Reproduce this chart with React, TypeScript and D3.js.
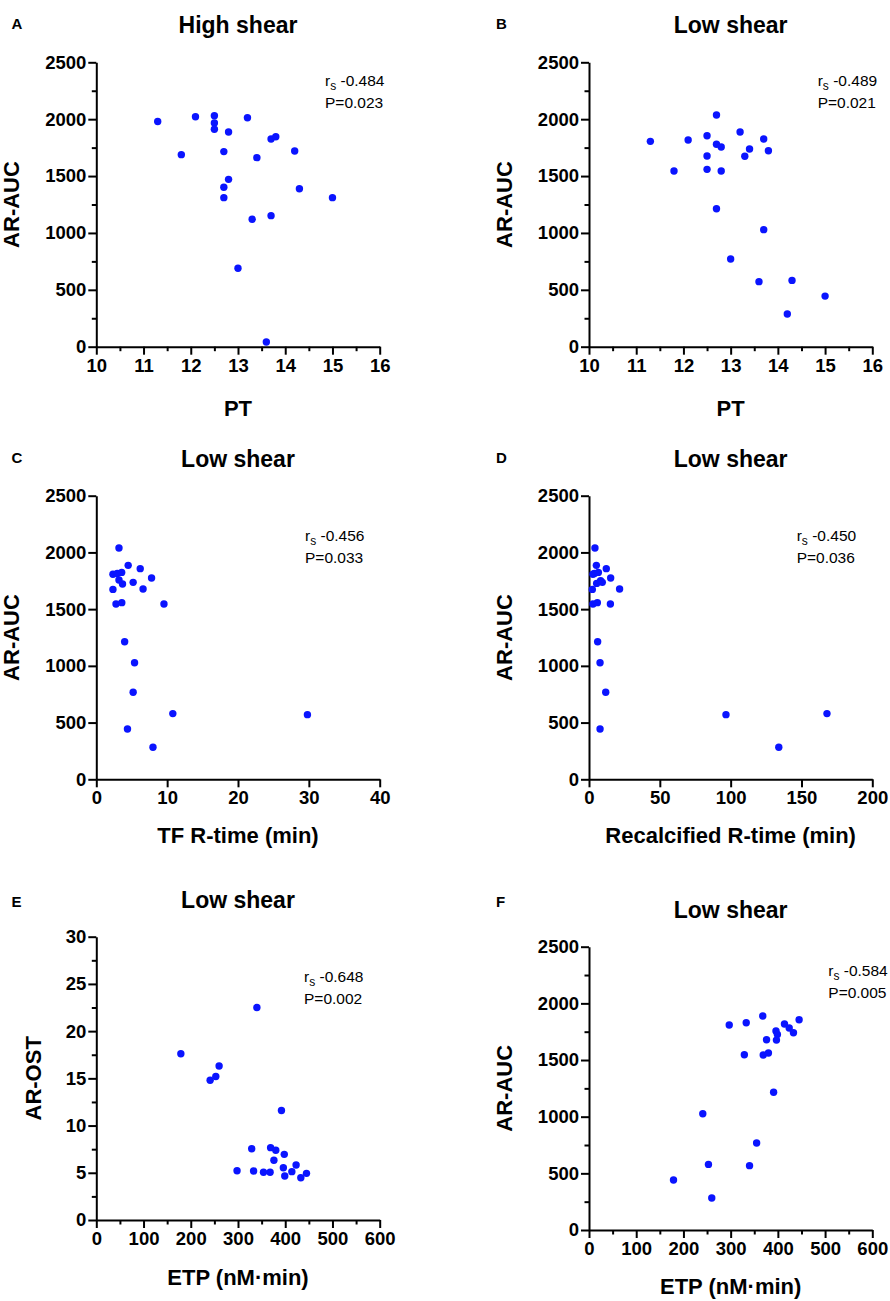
import React, { useEffect, useRef } from 'react';
import * as d3 from 'd3';

// panel A - high shear, PT vs AR-AUC
const ptHigh = [11.3, 12.1, 12.5, 12.5, 12.5, 13.2, 12.8, 11.8, 12.7, 13.7, 13.8, 13.4, 14.2, 12.8, 12.7, 12.7, 14.3, 15.0, 13.3, 13.7, 13.0, 13.6];
const aucHigh = [1980, 2022, 2031, 1967, 1911, 2013, 1887, 1688, 1715, 1826, 1846, 1662, 1720, 1471, 1401, 1310, 1389, 1310, 1120, 1152, 689, 41];

// panel B - low shear, PT vs AR-AUC
const ptLow = [11.3, 12.1, 11.8, 12.5, 12.7, 12.7, 12.8, 12.5, 12.5, 12.8, 13.2, 13.4, 13.3, 13.7, 13.8, 12.7, 13.7, 13.0, 13.6, 14.3, 14.2, 15.0];
const aucLow = [1805, 1817, 1545, 1855, 2037, 1779, 1756, 1676, 1559, 1545, 1887, 1738, 1674, 1826, 1723, 1213, 1029, 771, 572, 583, 287, 445];

// panel C - TF R-time
const tfRtime = [3.2, 4.5, 6.2, 7.8, 2.35, 2.96, 3.58, 3.2, 3.7, 5.2, 6.6, 2.35, 2.78, 3.6, 9.55, 4.0, 5.4, 5.2, 10.8, 29.8, 4.4, 8.0];
const aucTf = [2039, 1886, 1857, 1774, 1807, 1815, 1824, 1757, 1721, 1736, 1677, 1674, 1545, 1557, 1545, 1213, 1028, 767, 579, 570, 444, 282];

// panel D - recalcified R-time
const recalcRtime = [4.2, 5.2, 12.2, 15.3, 2.8, 3.8, 6.6, 5.4, 8.2, 9.4, 2.35, 21.6, 2.8, 5.9, 15.1, 6.1, 7.8, 11.8, 96.7, 168, 7.8, 134];
const aucRecalc = [2039, 1886, 1857, 1774, 1807, 1815, 1824, 1727, 1750, 1736, 1674, 1677, 1545, 1557, 1545, 1213, 1028, 767, 570, 579, 444, 282];

// panel E - ETP vs AR-OST
const etpE = [340, 179, 241, 253, 260, 392, 329, 369, 380, 398, 376, 423, 396, 298, 333, 354, 368, 414, 399, 433, 445];
const ostE = [22.5, 17.6, 14.8, 15.2, 16.3, 11.6, 7.55, 7.66, 7.38, 6.95, 6.32, 5.82, 5.54, 5.22, 5.19, 5.05, 5.05, 5.12, 4.66, 4.48, 4.94];

// panel F - ETP vs AR-AUC
const etpF = [297, 333, 368, 414, 424, 433, 445, 396, 399, 376, 397, 329, 369, 380, 391, 241, 355, 253, 340, 179, 260];
const aucF = [1809, 1829, 1888, 1818, 1782, 1741, 1856, 1756, 1726, 1679, 1676, 1547, 1544, 1562, 1215, 1026, 768, 579, 568, 441, 282];

const aucTicks = [0, 500, 1000, 1500, 2000, 2500];
const aucMinor = [250, 750, 1250, 1750, 2250];
const ostTicks = [0, 5, 10, 15, 20, 25, 30];
const ostMinor = [2.5, 7.5, 12.5, 17.5, 22.5, 27.5];
const ptTicks = [10, 11, 12, 13, 14, 15, 16];
const ptMinor = [10.5, 11.5, 12.5, 13.5, 14.5, 15.5];
const tfTicks = [0, 10, 20, 30, 40];
const recalcTicks = [0, 50, 100, 150, 200];
const etpTicks = [0, 100, 200, 300, 400, 500, 600];
const etpMinor = [50, 150, 250, 350, 450, 550];

const FONT = '"Liberation Sans", Arial, Helvetica, sans-serif';
const DOT = '#0a14ff';

const panels = [
  { letter: 'A', title: 'High shear', xLabel: 'PT', yLabel: 'AR-AUC', xs: ptHigh, ys: aucHigh,
    xDomain: [10, 16], xTicks: ptTicks, xMinor: ptMinor, yDomain: [0, 2500], yTicks: aucTicks, yMinor: aucMinor,
    left: 96.3, right: 379.7, top: 62.3, bottom: 346.7, rs: '-0.484', p: 'P=0.023', sx: 325, sy: 86,
    titleY: 33, letterX: 11.5, letterY: 29.3, xLabelY: 416, yLabelX: 19.3 },
  { letter: 'B', title: 'Low shear', xLabel: 'PT', yLabel: 'AR-AUC', xs: ptLow, ys: aucLow,
    xDomain: [10, 16], xTicks: ptTicks, xMinor: ptMinor, yDomain: [0, 2500], yTicks: aucTicks, yMinor: aucMinor,
    left: 589, right: 872.3, top: 62.3, bottom: 346.7, rs: '-0.489', p: 'P=0.021', sx: 817.7, sy: 86,
    titleY: 33, letterX: 496, letterY: 29.3, xLabelY: 416, yLabelX: 511.7 },
  { letter: 'C', title: 'Low shear', xLabel: 'TF R-time (min)', yLabel: 'AR-AUC', xs: tfRtime, ys: aucTf,
    xDomain: [0, 40], xTicks: tfTicks, xMinor: [], yDomain: [0, 2500], yTicks: aucTicks, yMinor: [],
    left: 96.3, right: 379.7, top: 495.7, bottom: 779.3, rs: '-0.456', p: 'P=0.033', sx: 305, sy: 541,
    titleY: 467, letterX: 11.5, letterY: 462.7, xLabelY: 843, yLabelX: 19.3 },
  { letter: 'D', title: 'Low shear', xLabel: 'Recalcified R-time (min)', yLabel: 'AR-AUC', xs: recalcRtime, ys: aucRecalc,
    xDomain: [0, 200], xTicks: recalcTicks, xMinor: [], yDomain: [0, 2500], yTicks: aucTicks, yMinor: [],
    left: 589, right: 872.3, top: 495.7, bottom: 779.3, rs: '-0.450', p: 'P=0.036', sx: 796.7, sy: 541,
    titleY: 467, letterX: 496, letterY: 462.7, xLabelY: 843, yLabelX: 511.7 },
  { letter: 'E', title: 'Low shear', xLabel: 'ETP (nM·min)', yLabel: 'AR-OST', xs: etpE, ys: ostE,
    xDomain: [0, 600], xTicks: etpTicks, xMinor: etpMinor, yDomain: [0, 30], yTicks: ostTicks, yMinor: ostMinor,
    left: 96.3, right: 379.7, top: 936.7, bottom: 1220, rs: '-0.648', p: 'P=0.002', sx: 304, sy: 981.7,
    titleY: 908, letterX: 11.5, letterY: 907.3, xLabelY: 1285, yLabelX: 40.7 },
  { letter: 'F', title: 'Low shear', xLabel: 'ETP (nM·min)', yLabel: 'AR-AUC', xs: etpF, ys: aucF,
    xDomain: [0, 600], xTicks: etpTicks, xMinor: etpMinor, yDomain: [0, 2500], yTicks: aucTicks, yMinor: aucMinor,
    left: 589, right: 872.3, top: 946.7, bottom: 1230, rs: '-0.584', p: 'P=0.005', sx: 828.3, sy: 976,
    titleY: 918, letterX: 496, letterY: 907.3, xLabelY: 1294, yLabelX: 511.7 },
];

type PanelCfg = typeof panels[number];

function Panel({ cfg }: { cfg: PanelCfg }) {
  const gRef = useRef<SVGGElement>(null);

  useEffect(() => {
    const g = d3.select(gRef.current);
    g.selectAll('*').remove();

    const x = d3.scaleLinear().domain(cfg.xDomain).range([cfg.left, cfg.right]);
    const y = d3.scaleLinear().domain(cfg.yDomain).range([cfg.bottom, cfg.top]);

    const style = (s: any) => {
      s.attr('font-family', FONT).attr('font-size', 18.5).attr('font-weight', 'bold');
      s.selectAll('line').attr('stroke', '#000').attr('stroke-width', 2);
      s.select('.domain').attr('stroke', '#000').attr('stroke-width', 2);
      s.selectAll('text').attr('fill', '#000');
    };

    // minor ticks
    if (cfg.xMinor.length) {
      g.append('g')
        .attr('transform', `translate(0,${cfg.bottom})`)
        .call(d3.axisBottom(x).tickValues(cfg.xMinor).tickSize(4.5).tickFormat(() => ''))
        .call(style)
        .call(s => s.select('.domain').remove());
    }
    if (cfg.yMinor.length) {
      g.append('g')
        .attr('transform', `translate(${cfg.left},0)`)
        .call(d3.axisLeft(y).tickValues(cfg.yMinor).tickSize(4.5).tickFormat(() => ''))
        .call(style)
        .call(s => s.select('.domain').remove());
    }

    // main axes
    g.append('g')
      .attr('transform', `translate(0,${cfg.bottom})`)
      .call(d3.axisBottom(x).tickValues(cfg.xTicks).tickSize(8).tickSizeOuter(0).tickPadding(4).tickFormat(d3.format('d')))
      .call(style);
    g.append('g')
      .attr('transform', `translate(${cfg.left},0)`)
      .call(d3.axisLeft(y).tickValues(cfg.yTicks).tickSize(8).tickSizeOuter(0).tickPadding(2).tickFormat(d3.format('d')))
      .call(style);

    // points
    g.append('g')
      .selectAll('circle')
      .data(cfg.xs.map((v, i) => [v, cfg.ys[i]]))
      .join('circle')
      .attr('cx', d => x(d[0]))
      .attr('cy', d => y(d[1]))
      .attr('r', 3.7)
      .attr('fill', DOT);
  }, [cfg]);

  const cx = (cfg.left + cfg.right) / 2;
  const cy = (cfg.top + cfg.bottom) / 2;

  return (
    <g fontFamily={FONT} fill="#000">
      <text x={cfg.letterX} y={cfg.letterY} fontSize={15} fontWeight="bold">{cfg.letter}</text>
      <text x={cx} y={cfg.titleY} fontSize={23} fontWeight="bold" textAnchor="middle">{cfg.title}</text>
      <text x={cx} y={cfg.xLabelY} fontSize={22} fontWeight="bold" textAnchor="middle">{cfg.xLabel}</text>
      <text transform={`translate(${cfg.yLabelX},${cy}) rotate(-90)`} fontSize={22} fontWeight="bold" textAnchor="middle">{cfg.yLabel}</text>
      <text x={cfg.sx} y={cfg.sy} fontSize={15.5}>
        r<tspan fontSize={12} dy={4}>s</tspan><tspan dy={-4}> {cfg.rs}</tspan>
      </text>
      <text x={cfg.sx} y={cfg.sy + 22} fontSize={15.5}>{cfg.p}</text>
      <g ref={gRef} />
    </g>
  );
}

export default function App() {
  return (
    <svg width={890} height={1301} style={{ position: 'absolute', left: 0, top: 0, background: '#fff' }}>
      <rect width={890} height={1301} fill="#fff" />
      {panels.map(p => <Panel key={p.letter} cfg={p} />)}
    </svg>
  );
}
